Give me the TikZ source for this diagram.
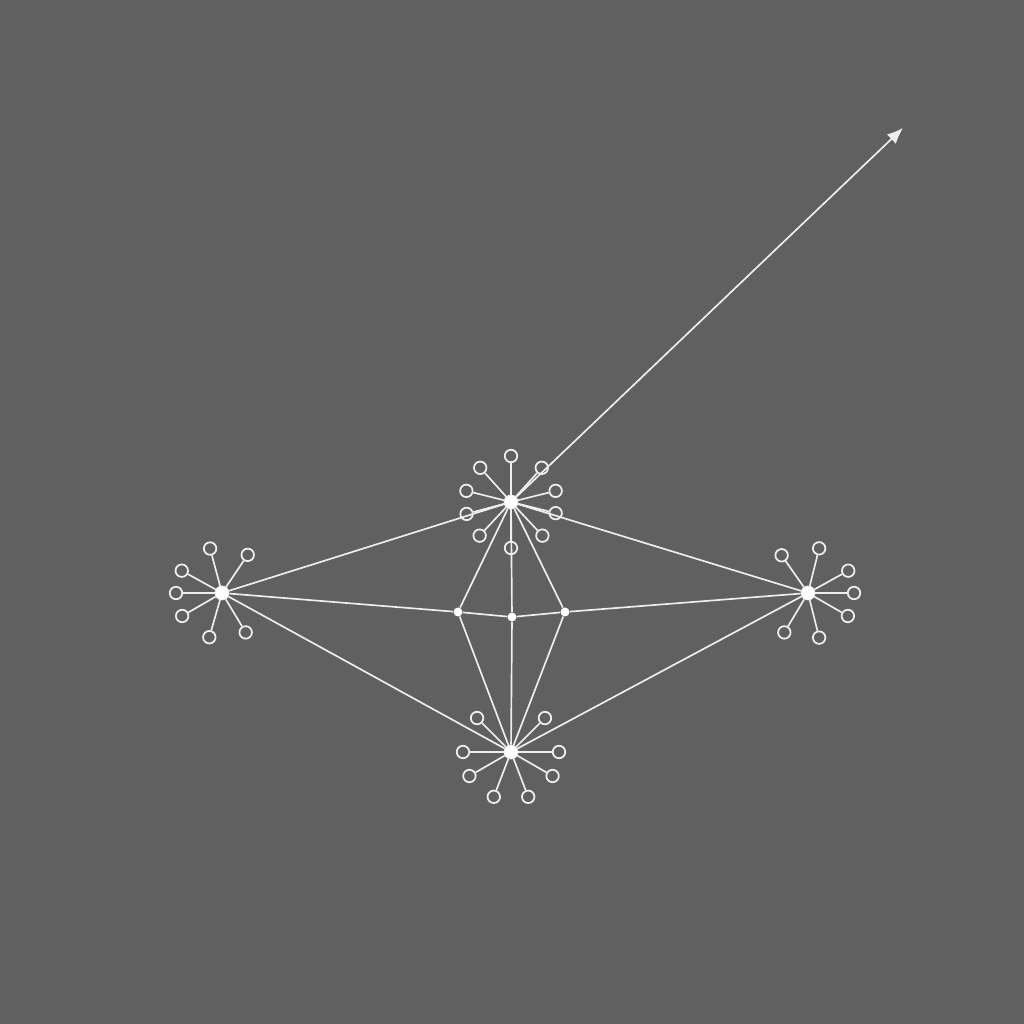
\documentclass[tikz,border=0pt]{standalone}
\usetikzlibrary{arrows.meta}

\definecolor{bggray}{RGB}{96,96,96}
\definecolor{linewhite}{RGB}{238,238,238}

\tikzstyle{hub}=[
    circle,
    inner sep=0pt,
    minimum size=0.28cm,
    draw=linewhite,
    fill=white
]
\tikzstyle{joint}=[
    circle,
    inner sep=0pt,
    minimum size=0.18cm,
    fill=white
]
\tikzstyle{sat}=[
    circle,
    inner sep=0pt,
    minimum size=0.25cm,
    line width=1pt,
    draw=linewhite
]

\begin{document}
\begin{tikzpicture}[x=0.02cm,y=0.02cm,>={Latex[length=3.2mm,width=2.6mm]},
    every edge/.style={draw=linewhite,line width=0.95pt}]
	\fill[bggray] (0,0) rectangle (1024,1024);
	\useasboundingbox (0,0) rectangle (1024,1024);

	% HUBS
	\node (hub_t) [hub] at (511,522) {};
	\node (hub_l) [hub] at (222,431) {};
	\node (hub_r) [hub] at (808,431) {};
	\node (hub_b) [hub] at (511,272) {};
	% MIDDLE JOINTS
	\node (mid_l) [joint] at (458,412) {};
	\node (mid_c) [joint] at (512,407) {};
	\node (mid_r) [joint] at (565,412) {};
	\coordinate (tip) at (903,896);

	% Satellites around each hub
	\foreach \a in {90,48,14,-14,-47,-90,-133,-165,166,132}
		\node (t\a) [sat] at ([shift={(\a:46)}]hub_t) {};
	\foreach \a in {105,56,151,180,210,254,301}
		\node (l\a) [sat] at ([shift={(\a:46)}]hub_l) {};
	\foreach \a in {125,76,29,0,-30,-121,-76}
		\node (r\a) [sat] at ([shift={(\a:46)}]hub_r) {};
	\foreach \a in {135,45,180,0,210,330,249,291}
		\node (b\a) [sat] at ([shift={(\a:48)}]hub_b) {};

	% Spokes
	\foreach \a in {90,48,14,-14,-47,-90,-133,-165,166,132}
		\path (hub_t) edge (t\a);
	\foreach \a in {105,56,151,180,210,254,301}
		\path (hub_l) edge (l\a);
	\foreach \a in {125,76,29,0,-30,-121,-76}
		\path (hub_r) edge (r\a);
	\foreach \a in {135,45,180,0,210,330,249,291}
		\path (hub_b) edge (b\a);

	\path
	% Outer diamond
	(hub_l) edge (hub_t)
	(hub_t) edge (hub_r)
	(hub_l) edge (hub_b)
	(hub_b) edge (hub_r)

	% Middle row
	(hub_l) edge (mid_l)
	(mid_l) edge (mid_c)
	(mid_c) edge (mid_r)
	(mid_r) edge (hub_r)

	% Inner diamond
	(hub_t) edge (mid_l)
	(mid_l) edge (hub_b)
	(hub_t) edge (mid_r)
	(mid_r) edge (hub_b)
	(hub_t) edge (mid_c)
	(mid_c) edge (hub_b)

	% Long arrow
	(hub_t) edge[->] (tip)
	;
\end{tikzpicture}
\end{document}
